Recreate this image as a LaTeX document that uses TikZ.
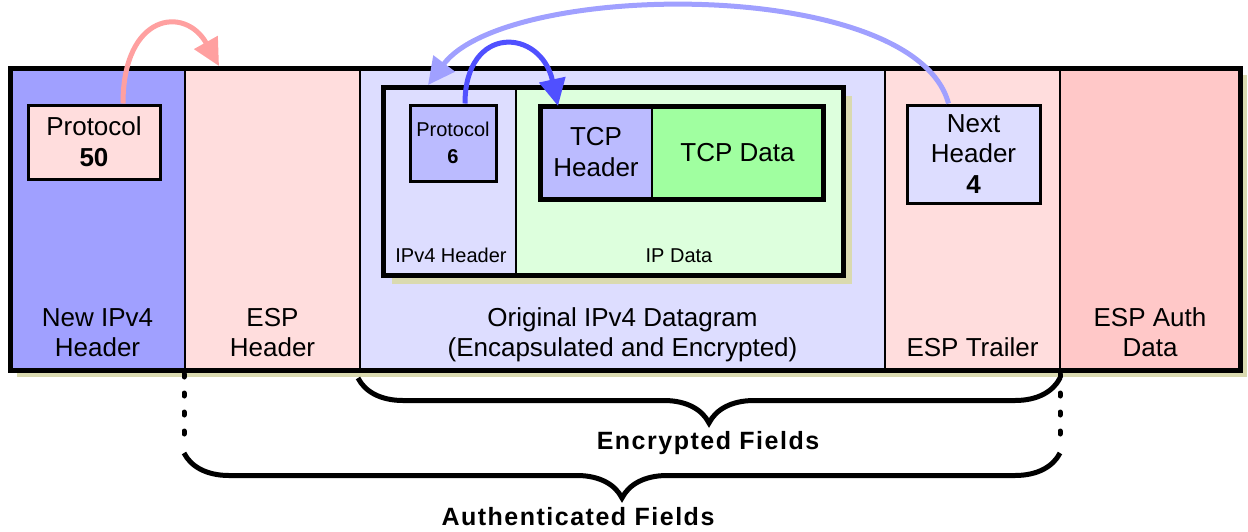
\documentclass[tikz,border=0pt]{standalone}
\usepackage{fontspec}
\setmainfont{Liberation Sans}
\usetikzlibrary{arrows.meta,positioning,decorations.pathreplacing}

\definecolor{hdrblue}{HTML}{A0A0FF}
\definecolor{paleblue}{HTML}{DDDDFF}
\definecolor{midblue}{HTML}{BBBBFF}
\definecolor{palepink}{HTML}{FFDDDD}
\definecolor{authpink}{HTML}{FFC8C8}
\definecolor{palegreen}{HTML}{DDFFDD}
\definecolor{tcpgreen}{HTML}{A0FFA0}
\definecolor{shadowcol}{HTML}{DADAB0}
\definecolor{arrowpink}{HTML}{FFA0A0}
\definecolor{arrowblue}{HTML}{5050FF}

\begin{document}
\begin{tikzpicture}[x=1pt,y=-1pt,
    col/.style={draw,line width=1.2pt,inner sep=0pt,outer sep=0pt,minimum height=302pt},
    lbl/.style={anchor=south,inner sep=0pt,align=center,font=\fontsize{26}{30}\selectfont,execute at end node=\strut},
    smalllbl/.style={anchor=base,inner sep=0pt,font=\fontsize{20}{24}\selectfont},
    fieldbox/.style={draw,line width=3pt,inner sep=0pt,align=center,font=\fontsize{26}{31}\selectfont},
    thinbox/.style={draw,line width=1.2pt,inner sep=0pt,outer sep=0pt,align=center},
    flow/.style={line width=5pt,-{Triangle[length=27pt,width=26pt]}},
    bracket/.style={line width=5pt,decorate,decoration={brace,mirror,amplitude=45pt}},
    dotline/.style={line width=5pt,line cap=round,dash pattern=on 3pt off 16pt},
    bracelbl/.style={anchor=base,inner sep=0pt,font=\fontsize{25}{30}\selectfont\bfseries\addfontfeature{LetterSpace=6}}]
  \useasboundingbox (0,0) rectangle (1248,531);

  % outer datagram
  \fill[shadowcol] (17,75) rectangle (1247,377);
  \node[col,fill=hdrblue,minimum width=175pt] (newip) at (97.5,219) {};
  \node[col,fill=palepink,minimum width=175pt,right=0pt of newip] (esphdr) {};
  \node[col,fill=paleblue,minimum width=525pt,right=0pt of esphdr] (orig) {};
  \node[col,fill=palepink,minimum width=175pt,right=0pt of orig] (esptrl) {};
  \node[col,fill=authpink,minimum width=180pt,right=0pt of esptrl] (espauth) {};
  \draw[line width=5pt] (newip.north west) rectangle (espauth.south east);

  \node[lbl,above=4pt of newip.south] (newiplbl) {New IPv4\\Header};
  \node[lbl,above=4pt of esphdr.south] (esphdrlbl) {ESP\\Header};
  \node[lbl,above=4pt of orig.south] (origlbl) {Original IPv4 Datagram\\(Encapsulated and Encrypted)};
  \node[lbl,above=4pt of esptrl.south] (esptrllbl) {ESP Trailer};
  \node[lbl,above=4pt of espauth.south] (espauthlbl) {ESP Auth\\Data};

  % inner IPv4 packet
  \fill[shadowcol] (392,96) rectangle (852,284);
  \node[thinbox,fill=paleblue,minimum width=133pt,minimum height=188pt] (iphdr) at (449.5,181) {};
  \node[thinbox,fill=palegreen,minimum width=327pt,minimum height=188pt,right=0pt of iphdr] (ipdata) {};
  \draw[line width=5pt] (iphdr.north west) rectangle (ipdata.south east);
  \node[smalllbl] (iphdrlbl) at (451,262) {IPv4 Header};
  \node[smalllbl] (ipdatalbl) at (679,262) {IP Data};

  % TCP segment
  \node[thinbox,fill=midblue,minimum width=112pt,minimum height=93pt,font=\fontsize{26}{31}\selectfont] (tcphdr) at (596,152.5) {TCP\\Header};
  \node[thinbox,fill=tcpgreen,minimum width=171pt,minimum height=93pt,font=\fontsize{26}{31}\selectfont,right=0pt of tcphdr] (tcpdata) {TCP Data};
  \draw[line width=5pt] (tcphdr.north west) rectangle (tcpdata.south east);

  % protocol fields
  \node[fieldbox,fill=palepink,minimum width=132pt,minimum height=74pt] (proto50) at (94,142) {Protocol\\\textbf{50}};
  \node[fieldbox,fill=midblue,minimum width=86pt,minimum height=76pt,font=\fontsize{20}{27}\selectfont] (proto6) at (453,143) {Protocol\\\textbf{6}};
  \node[fieldbox,fill=paleblue,minimum width=133pt,minimum height=98pt,font=\fontsize{26}{30.5}\selectfont] (nexthdr) at (973.5,154) {Next\\Header\\\textbf{4}};

  % next-header arrows
  \coordinate (esptop) at (219,66);
  \coordinate (iptop) at (428,85);
  \draw[flow,arrowpink] ([xshift=29pt]proto50.north) .. controls +(0,-90) and +(-34,-61) .. (esptop);
  \draw[flow,arrowblue] ([xshift=12pt]proto6.north) .. controls +(0,-80) and +(-17,-78) .. ([xshift=18pt]tcphdr.north west);
  \draw[flow,hdrblue] ([xshift=-25pt]nexthdr.north) .. controls +(-34,-127) and +(79,-105) .. (iptop);

  % braces
  \coordinate (encL) at (358,378);
  \coordinate (encR) at (1060,378);
  \coordinate (authL) at (184,453);
  \coordinate (authR) at (1060,453);
  \coordinate (dotL) at (184,374);
  \coordinate (dotR) at (1060,374);
  \draw[dotline] (dotL) -- ([yshift=16pt]authL);
  \draw[dotline] (dotR) -- ([yshift=16pt]authR);
  \draw[bracket] (encL) -- (encR);
  \draw[bracket] (authL) -- (authR);
  \node[bracelbl] (enclbl) at (708,449) {Encrypted Fields};
  \node[bracelbl] (authlbl) at (578,525) {Authenticated Fields};
\end{tikzpicture}
\end{document}
